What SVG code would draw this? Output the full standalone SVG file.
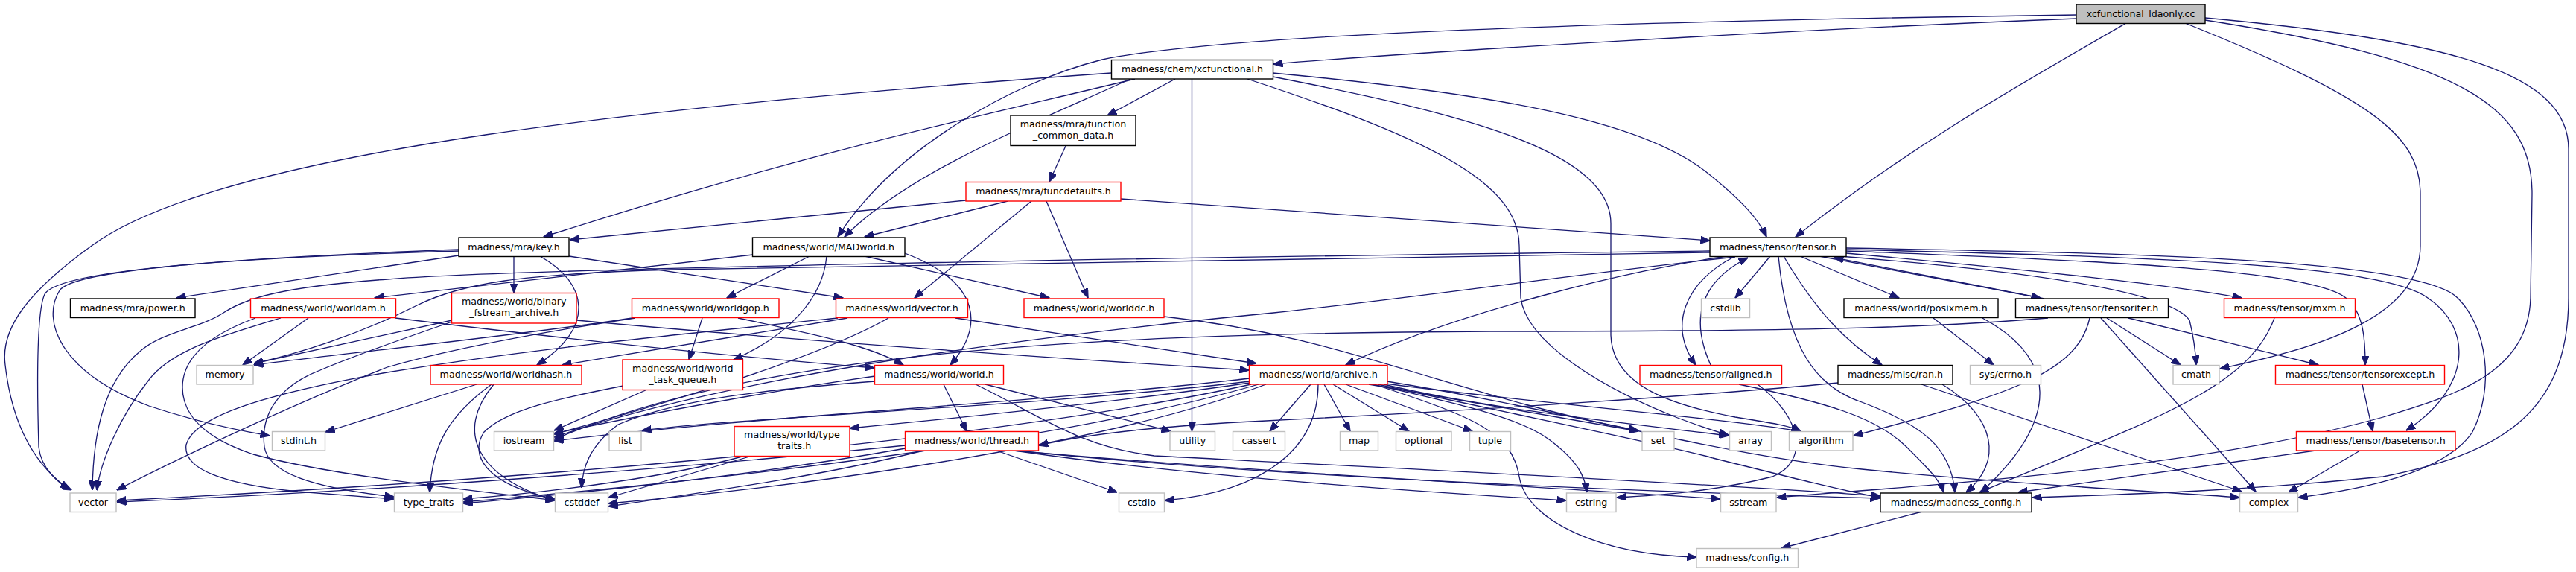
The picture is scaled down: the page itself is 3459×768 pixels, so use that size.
<svg xmlns="http://www.w3.org/2000/svg" width="3459" height="768" viewBox="0 0 3459 768">
<style>
.nd rect{fill:#ffffff;stroke-width:1.4}
.b rect{stroke:#000000}
.r rect{stroke:#ff0000}
.g rect{stroke:#bfbfbf}
.root rect{fill:#bfbfbf;stroke:#000000}
text{font-family:"DejaVu Sans",sans-serif;font-size:12.67px;text-anchor:middle;fill:#000000}
#edges path{fill:none;stroke:#191970;stroke-width:1.3;marker-end:url(#a)}
</style>
<defs>
<marker id="a" markerWidth="13" markerHeight="10" refX="12.5" refY="5" orient="auto" markerUnits="userSpaceOnUse">
<path d="M0,0 L13,5 L0,10 z" fill="#191970" stroke="#191970" stroke-width="1"/>
</marker>
</defs>
<rect width="3459" height="768" fill="#ffffff"/>
<g id="edges">
<path d="M2788,25 C2400,40 1900,70 1710,86"/>
<path d="M2788,20 C2200,28 1650,45 1480,80 C1360,110 1200,200 1125,318"/>
<path d="M2855,31 C2700,120 2560,200 2411,318"/>
<path d="M2934,31 C3180,130 3250,180 3250,260 L3250,330 C3250,430 3100,470 2981,495"/>
<path d="M2961,27 C3300,80 3400,140 3400,260 L3398,400 C3395,500 3300,530 3200,560 C2950,630 2600,650 2386,668"/>
<path d="M2961,24 C3300,55 3449,100 3449,200 L3449,400 C3449,560 3350,610 3200,640 C3000,660 2850,664 2729,668"/>
<path d="M1492,98 C900,140 300,200 123,330 C40,390 0,440 7,490 C15,560 40,620 93,657"/>
<path d="M1524,106 C1300,160 1100,200 730,318"/>
<path d="M1518,106 C1400,160 1220,230 1134,318"/>
<path d="M1578,106 L1487,155"/>
<path d="M1600.5,106 L1600.5,579"/>
<path d="M1709,98 C2000,125 2200,160 2290,230 C2340,270 2362,295 2372,318"/>
<path d="M1675,106 C1900,180 2040,240 2040,330 L2042,400 C2050,460 2150,520 2250,560 C2290,575 2305,580 2321,584"/>
<path d="M1709,103 C1950,150 2163,200 2163,300 L2163,450 C2165,520 2250,545 2330,560 C2380,568 2405,572 2418,579"/>
<path d="M616,337 C350,345 80,360 60,395 C48,420 50,530 52,600 C55,630 80,650 96,658"/>
<path d="M616,335 C350,345 100,360 80,390 C55,430 80,500 200,545 C260,565 320,578 362,585"/>
<path d="M616,343 L237,400"/>
<path d="M690,344 L690,393"/>
<path d="M725,344 C790,380 800,440 721,490"/>
<path d="M764,344 L1132,400"/>
<path d="M1011,342 L503,400"/>
<path d="M1087,344 L976,400"/>
<path d="M1110,344 C1105,400 1060,450 985,483"/>
<path d="M1161,344 L1409,400"/>
<path d="M1215,340 C1320,380 1320,440 1276,490"/>
<path d="M1297,269 L765,322"/>
<path d="M1353,270 L1161,318"/>
<path d="M1385,270 L1228,400"/>
<path d="M1405,270 L1461,400"/>
<path d="M1505,267 L2296,323"/>
<path d="M1431,196 L1409,244"/>
<path d="M2377,344 L2330,400"/>
<path d="M2417,344 L2550,400"/>
<path d="M2395,344 C2440,420 2480,460 2527,490"/>
<path d="M2388,344 C2400,470 2440,520 2500,540 C2580,570 2620,600 2625,661"/>
<path d="M2330,344 C2260,380 2240,440 2277,490"/>
<path d="M2297,490 C2270,430 2280,380 2347,346"/>
<path d="M2443,344 L2740,400"/>
<path d="M2745,401 L2463,346"/>
<path d="M2479,340 C2700,360 2900,380 3010,400"/>
<path d="M2320,344 C2200,360 1950,420 1807,490"/>
<path d="M2296,337 C1600,345 700,360 520,375 C380,385 330,400 300,420 C270,440 220,445 190,470 C140,510 125,580 124,658"/>
<path d="M2296,339 C1600,348 1200,355 900,362 C700,368 620,380 560,410 C480,450 400,475 341,488"/>
<path d="M2330,345 C2100,370 1900,400 1710,420 C1400,450 1000,500 744,587"/>
<path d="M2470,344 C2800,370 2920,400 2940,430 C2945,450 2948,470 2949,490"/>
<path d="M2479,337 C2800,350 3100,360 3150,400 C3175,420 3176,460 3176,490"/>
<path d="M2479,335 C2900,345 3200,355 3260,400 C3320,440 3320,520 3231,578"/>
<path d="M2479,333 C2900,340 3250,350 3300,400 C3340,440 3350,520 3320,580 C3280,640 3150,660 3086,668"/>
<path d="M2335,516 C2450,540 2520,560 2560,600 C2590,630 2605,645 2610,661"/>
<path d="M2360,516 C2420,560 2430,620 2380,640 C2300,660 2230,665 2171,668"/>
<path d="M2608,516 C2680,560 2690,620 2640,661"/>
<path d="M2580,516 L3010,660"/>
<path d="M2468,514 C2300,530 2000,550 1700,565 C1550,572 1450,585 1395,598"/>
<path d="M2596,427 L2677,490"/>
<path d="M2662,427 C2760,480 2770,560 2660,661"/>
<path d="M2829,427 L2928,490"/>
<path d="M2821,427 L3029,660"/>
<path d="M2858,427 L3113,490"/>
<path d="M2806,427 C2790,500 2700,530 2489,585"/>
<path d="M2750,427 C2600,440 2400,445 2000,445 C1400,448 1000,480 744,590"/>
<path d="M3054,427 C3020,520 2900,560 2658,661"/>
<path d="M3172,516 L3186,579"/>
<path d="M3109,605 L2710,661"/>
<path d="M3169,605 L3073,661"/>
<path d="M2581,687 L2392,736"/>
<path d="M1760,516 L1705,579"/>
<path d="M1778,516 L1813,579"/>
<path d="M1790,516 L1892,579"/>
<path d="M1807,516 L1977,579"/>
<path d="M1770,516 C1770,600 1700,660 1564,672"/>
<path d="M1838,516 L2200,579"/>
<path d="M1843,516 C1950,540 2040,560 2080,590 C2120,620 2128,640 2131,661"/>
<path d="M1845,516 C1980,560 2030,580 2040,640 C2050,700 2150,745 2278,748"/>
<path d="M1858,516 C2000,550 2200,570 2321,585"/>
<path d="M1860,515 C2050,540 2300,560 2418,579"/>
<path d="M1850,516 C2050,560 2250,600 2300,615 C2400,640 2480,660 2525,668"/>
<path d="M1862,512 C2100,550 2300,610 2500,630 C2700,650 2900,660 3007,668"/>
<path d="M1678,508 C1400,540 1000,560 744,592"/>
<path d="M1678,512 C1400,545 1000,560 862,578"/>
<path d="M1678,514 C1500,540 1300,560 1141,575"/>
<path d="M1680,516 C1300,600 600,650 157,672"/>
<path d="M1690,516 C1400,600 900,650 622,674"/>
<path d="M1700,516 C1450,610 1000,660 817,676"/>
<path d="M1267,516 L1298,579"/>
<path d="M1323,516 L1572,579"/>
<path d="M1175,505 C1000,530 850,560 744,582"/>
<path d="M1310,516 C1400,560 1450,600 1550,612 C1900,630 2300,650 2525,666"/>
<path d="M1338,605 L1500,661"/>
<path d="M1362,605 C1600,640 1900,660 2103,672"/>
<path d="M1365,605 C1700,640 2200,660 2524,669"/>
<path d="M1360,605 C1700,635 2100,655 2310,670"/>
<path d="M1216,598 C900,630 500,660 157,674"/>
<path d="M1216,602 C1000,640 800,660 622,676"/>
<path d="M1240,605 C1100,640 950,660 817,680"/>
<path d="M1000,612 C900,640 750,660 622,670"/>
<path d="M1010,612 L817,668"/>
<path d="M640,516 L437,580"/>
<path d="M660,516 C600,560 580,600 577,661"/>
<path d="M663,516 C610,580 640,640 745,672"/>
<path d="M869,523 L744,578"/>
<path d="M1175,512 C1000,525 900,540 830,570 C790,600 782,630 781,655"/>
<path d="M837,518 C750,535 680,550 650,580 C630,610 650,650 745,670"/>
<path d="M414,427 L326,490"/>
<path d="M377,427 C300,450 230,470 200,510 C160,560 135,620 130,658"/>
<path d="M343,427 C280,450 245,480 245,520 C245,560 280,590 340,610 C450,640 650,660 745,672"/>
<path d="M531,427 C800,460 1000,480 1174,494"/>
<path d="M607,430 L341,488"/>
<path d="M774,430 C1100,460 1400,480 1677,497"/>
<path d="M607,432 C540,455 470,480 430,497 C370,520 350,560 355,600 C360,635 420,655 529,667"/>
<path d="M943,427 L925,483"/>
<path d="M991,427 C1100,450 1170,465 1213,490"/>
<path d="M849,427 C700,450 500,470 341,490"/>
<path d="M853,427 C700,450 600,470 520,493 C400,540 250,610 157,658"/>
<path d="M1138,427 L755,490"/>
<path d="M1283,427 L1687,488"/>
<path d="M1125,427 C900,450 700,470 520,500 C350,530 260,560 250,597 C245,630 300,650 400,660 C460,665 500,668 529,670"/>
<path d="M1193,427 C1100,480 900,540 744,583"/>
<path d="M1563,425 C1700,440 1800,470 1900,500 C2000,530 2100,560 2200,578"/>
</g>
<g id="n_root" class="nd root"><rect x="2788" y="6" width="173" height="25.5"/><text x="2874.5" y="22.5">xcfunctional_ldaonly.cc</text></g>
<g id="n_xcfunctional" class="nd b"><rect x="1492.5" y="80.5" width="217" height="25.5"/><text x="1601" y="97">madness/chem/xcfunctional.h</text></g>
<g id="n_fcd" class="nd b"><rect x="1357" y="155" width="168" height="40.5"/><text x="1441" y="170.5">madness/mra/function</text><text x="1441" y="185.5">_common_data.h</text></g>
<g id="n_funcdefaults" class="nd r"><rect x="1297" y="244.5" width="208" height="25.5"/><text x="1401" y="261">madness/mra/funcdefaults.h</text></g>
<g id="n_key" class="nd b"><rect x="616" y="319" width="148" height="25.5"/><text x="690" y="335.5">madness/mra/key.h</text></g>
<g id="n_madworld" class="nd b"><rect x="1010.5" y="319" width="204.5" height="25.5"/><text x="1112.75" y="335.5">madness/world/MADworld.h</text></g>
<g id="n_tensor" class="nd b"><rect x="2296" y="319" width="183" height="25.5"/><text x="2387.5" y="335.5">madness/tensor/tensor.h</text></g>
<g id="n_power" class="nd b"><rect x="94.5" y="401" width="167.5" height="25.5"/><text x="178.25" y="417.5">madness/mra/power.h</text></g>
<g id="n_worldam" class="nd r"><rect x="336.5" y="401" width="195" height="25.5"/><text x="434" y="417.5">madness/world/worldam.h</text></g>
<g id="n_binary" class="nd r"><rect x="606.5" y="393.5" width="167.5" height="40.5"/><text x="690.25" y="409">madness/world/binary</text><text x="690.25" y="424">_fstream_archive.h</text></g>
<g id="n_worldgop" class="nd r"><rect x="848.5" y="401" width="197.5" height="25.5"/><text x="947.25" y="417.5">madness/world/worldgop.h</text></g>
<g id="n_vectorh" class="nd r"><rect x="1122.5" y="401" width="177" height="25.5"/><text x="1211" y="417.5">madness/world/vector.h</text></g>
<g id="n_worlddc" class="nd r"><rect x="1375" y="401" width="188" height="25.5"/><text x="1469" y="417.5">madness/world/worlddc.h</text></g>
<g id="n_cstdlib" class="nd g"><rect x="2284.5" y="401" width="65" height="25.5"/><text x="2317" y="417.5">cstdlib</text></g>
<g id="n_posixmem" class="nd b"><rect x="2476" y="401" width="207" height="25.5"/><text x="2579.5" y="417.5">madness/world/posixmem.h</text></g>
<g id="n_tensoriter" class="nd b"><rect x="2706.5" y="401" width="205" height="25.5"/><text x="2809" y="417.5">madness/tensor/tensoriter.h</text></g>
<g id="n_mxm" class="nd r"><rect x="2986.5" y="401" width="176" height="25.5"/><text x="3074.5" y="417.5">madness/tensor/mxm.h</text></g>
<g id="n_memory" class="nd g"><rect x="264" y="490.5" width="76" height="25.5"/><text x="302" y="507">memory</text></g>
<g id="n_worldhash" class="nd r"><rect x="578" y="490.5" width="203" height="25.5"/><text x="679.5" y="507">madness/world/worldhash.h</text></g>
<g id="n_wtq" class="nd r"><rect x="836" y="483" width="161.5" height="40.5"/><text x="916.75" y="498.5">madness/world/world</text><text x="916.75" y="513.5">_task_queue.h</text></g>
<g id="n_world" class="nd r"><rect x="1174.5" y="490.5" width="173" height="25.5"/><text x="1261" y="507">madness/world/world.h</text></g>
<g id="n_archive" class="nd r"><rect x="1677.5" y="490.5" width="185.5" height="25.5"/><text x="1770.25" y="507">madness/world/archive.h</text></g>
<g id="n_aligned" class="nd r"><rect x="2202" y="490.5" width="190.5" height="25.5"/><text x="2297.25" y="507">madness/tensor/aligned.h</text></g>
<g id="n_ran" class="nd b"><rect x="2468" y="490.5" width="154" height="25.5"/><text x="2545" y="507">madness/misc/ran.h</text></g>
<g id="n_errno" class="nd g"><rect x="2645.5" y="490.5" width="95" height="25.5"/><text x="2693" y="507">sys/errno.h</text></g>
<g id="n_cmath" class="nd g"><rect x="2918" y="490.5" width="62" height="25.5"/><text x="2949" y="507">cmath</text></g>
<g id="n_tensorexcept" class="nd r"><rect x="3055.5" y="490.5" width="227" height="25.5"/><text x="3169" y="507">madness/tensor/tensorexcept.h</text></g>
<g id="n_stdint" class="nd g"><rect x="365.5" y="579.5" width="71" height="25.5"/><text x="401" y="596">stdint.h</text></g>
<g id="n_iostream" class="nd g"><rect x="663.5" y="579.5" width="80" height="25.5"/><text x="703.5" y="596">iostream</text></g>
<g id="n_list" class="nd g"><rect x="818" y="579.5" width="43" height="25.5"/><text x="839.5" y="596">list</text></g>
<g id="n_wtypetraits" class="nd r"><rect x="986" y="572.5" width="155" height="40"/><text x="1063.5" y="588">madness/world/type</text><text x="1063.5" y="603">_traits.h</text></g>
<g id="n_thread" class="nd r"><rect x="1215.5" y="579.5" width="179" height="25.5"/><text x="1305" y="596">madness/world/thread.h</text></g>
<g id="n_utility" class="nd g"><rect x="1571" y="579.5" width="60.5" height="25.5"/><text x="1601.25" y="596">utility</text></g>
<g id="n_cassert" class="nd g"><rect x="1655.5" y="579.5" width="70" height="25.5"/><text x="1690.5" y="596">cassert</text></g>
<g id="n_map" class="nd g"><rect x="1799.5" y="579.5" width="51" height="25.5"/><text x="1825" y="596">map</text></g>
<g id="n_optional" class="nd g"><rect x="1874.5" y="579.5" width="74.5" height="25.5"/><text x="1911.75" y="596">optional</text></g>
<g id="n_tuple" class="nd g"><rect x="1973.5" y="579.5" width="55" height="25.5"/><text x="2001" y="596">tuple</text></g>
<g id="n_set" class="nd g"><rect x="2205" y="579.5" width="43" height="25.5"/><text x="2226.5" y="596">set</text></g>
<g id="n_array" class="nd g"><rect x="2322.5" y="579.5" width="56" height="25.5"/><text x="2350.5" y="596">array</text></g>
<g id="n_algorithm" class="nd g"><rect x="2402.5" y="579.5" width="85.5" height="25.5"/><text x="2445.25" y="596">algorithm</text></g>
<g id="n_basetensor" class="nd r"><rect x="3083.5" y="579.5" width="213.5" height="25.5"/><text x="3190.25" y="596">madness/tensor/basetensor.h</text></g>
<g id="n_vector" class="nd g"><rect x="94" y="662" width="62" height="25.5"/><text x="125" y="678.5">vector</text></g>
<g id="n_typetraits" class="nd g"><rect x="529.5" y="662" width="92" height="25.5"/><text x="575.5" y="678.5">type_traits</text></g>
<g id="n_cstddef" class="nd g"><rect x="745.5" y="662" width="71" height="25.5"/><text x="781" y="678.5">cstddef</text></g>
<g id="n_cstdio" class="nd g"><rect x="1502.5" y="662" width="61" height="25.5"/><text x="1533" y="678.5">cstdio</text></g>
<g id="n_cstring" class="nd g"><rect x="2103.5" y="662" width="66.5" height="25.5"/><text x="2136.75" y="678.5">cstring</text></g>
<g id="n_sstream" class="nd g"><rect x="2310.5" y="662" width="74.5" height="25.5"/><text x="2347.75" y="678.5">sstream</text></g>
<g id="n_madconfig" class="nd b"><rect x="2525" y="662" width="203" height="25.5"/><text x="2626.5" y="678.5">madness/madness_config.h</text></g>
<g id="n_complex" class="nd g"><rect x="3007.5" y="662" width="78" height="25.5"/><text x="3046.5" y="678.5">complex</text></g>
<g id="n_config" class="nd g"><rect x="2278" y="736.5" width="136.5" height="25.5"/><text x="2346.25" y="753">madness/config.h</text></g>
</svg>
